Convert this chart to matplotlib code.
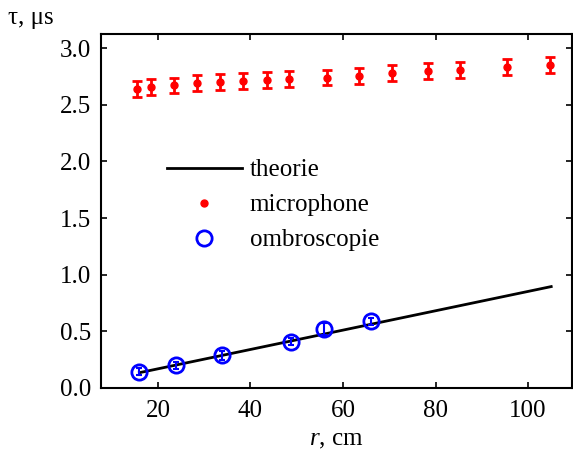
import matplotlib
matplotlib.use("Agg")
import matplotlib.pyplot as plt

# microphone measurements
mic_r = [15.5, 18.5, 23.5, 28.4, 33.4, 38.4, 43.5, 48.3, 56.5, 63.5, 70.5, 78.4, 85.3, 95.4, 104.8]
mic_tau = [2.64, 2.66, 2.67, 2.69, 2.70, 2.71, 2.72, 2.73, 2.74, 2.75, 2.78, 2.80, 2.81, 2.83, 2.85]
mic_err = [0.07] * 15

# shadowgraph (ombroscopie) measurements
omb_r = [16.0, 24.0, 33.9, 48.8, 56.0, 66.0]
omb_tau = [0.145, 0.20, 0.29, 0.41, 0.52, 0.59]
omb_err = [0.03, 0.03, 0.04, 0.03, 0.05, 0.03]

# theory
th_r = [16.0, 105.0]
th_tau = [0.135, 0.895]

plt.rcParams['font.family'] = ['Liberation Serif', 'DejaVu Serif']
plt.rcParams['mathtext.fontset'] = 'custom'
plt.rcParams['mathtext.rm'] = 'Liberation Serif'
plt.rcParams['mathtext.it'] = 'Liberation Serif:italic'
plt.rcParams['font.size'] = 18

fig = plt.figure(figsize=(5.73, 4.5), dpi=100)
ax = fig.add_axes([0.1763, 0.1378, 0.822, 0.7866])

th_line, = ax.plot(th_r, th_tau, color='black', lw=2, label='theorie')
ax.errorbar(mic_r, mic_tau, yerr=mic_err, fmt='none', ecolor='red', elinewidth=2,
            capsize=3.5, capthick=2)
mic_pts, = ax.plot(mic_r, mic_tau, 'o', color='red', ms=5, label='microphone')
ax.errorbar(omb_r, omb_tau, yerr=omb_err, fmt='none', ecolor='blue', elinewidth=1.5,
            capsize=2, capthick=1.5)
omb_pts, = ax.plot(omb_r, omb_tau, 'o', mfc='none', mec='blue', mew=2, ms=11,
                   label='ombroscopie')

ax.set_xlim(7.7, 109.5)
ax.set_ylim(0, 3.124)
ax.set_xticks([20, 40, 60, 80, 100])
ax.set_yticks([0.0, 0.5, 1.0, 1.5, 2.0, 2.5, 3.0])
ax.set_yticklabels(['0.0', '0.5', '1.0', '1.5', '2.0', '2.5', '3.0'])
ax.tick_params(direction='in', length=4, width=1.2, top=True, right=True)
ax.tick_params(axis='x', pad=9)
ax.tick_params(axis='y', pad=7)
for s in ax.spines.values():
    s.set_linewidth(1.5)

ax.set_xlabel('$r$, cm', labelpad=5)
fig.text(0.014, 0.935, 'τ, μs', fontsize=18, ha='left', va='bottom')

leg = ax.legend(handles=[th_line, mic_pts, omb_pts], loc='upper left',
                bbox_to_anchor=(0.092, 0.711), frameon=False, handlelength=3.0,
                labelspacing=0.5, handletextpad=0.32, fontsize=18)
leg.legend_handles[1].set_markersize(5)

fig.savefig('out.png', dpi=100)
